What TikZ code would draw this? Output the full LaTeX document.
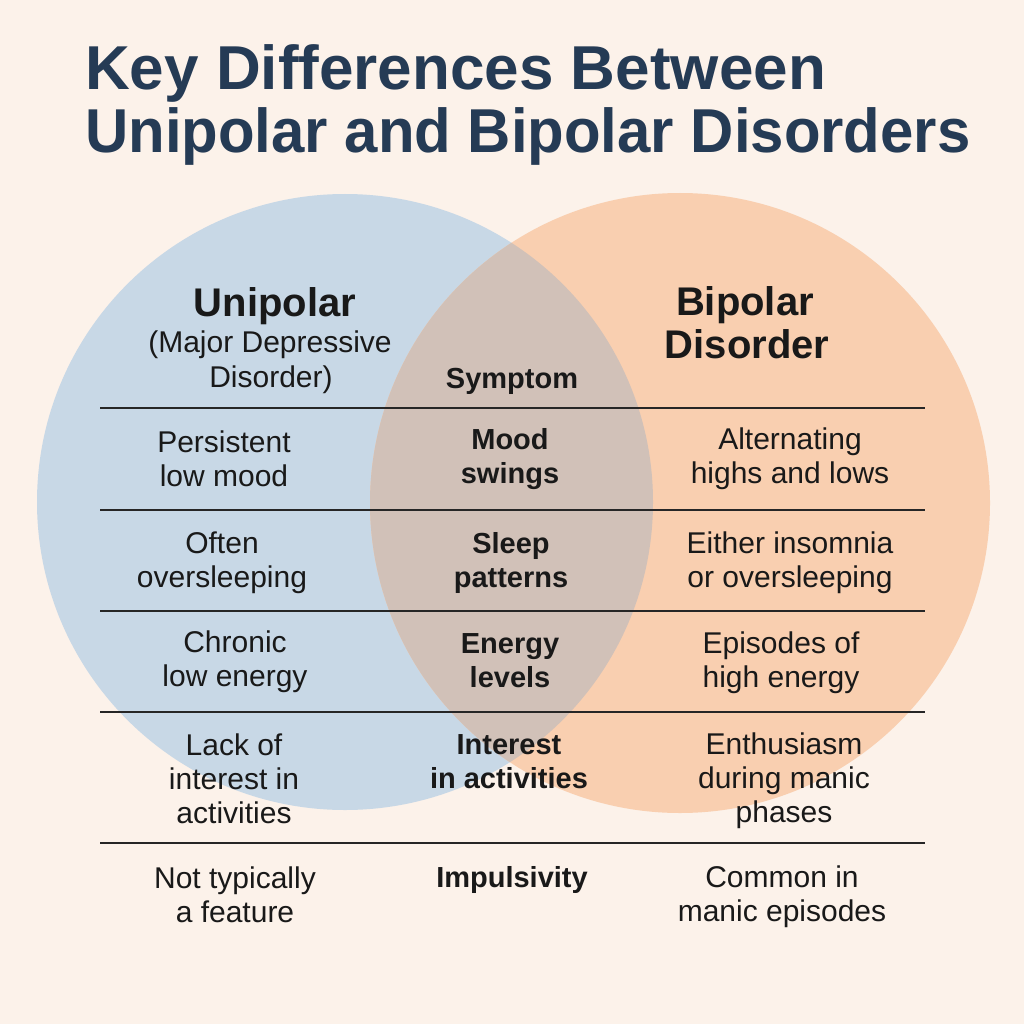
\documentclass[tikz,border=0pt]{standalone}
\usepackage{fontspec}
\setmainfont{Liberation Sans}
\usetikzlibrary{positioning}
\definecolor{bgpeach}{RGB}{252,242,234}
\definecolor{uniblue}{RGB}{200,216,230}
\definecolor{biporange}{RGB}{249,207,176}
\definecolor{overlapbrown}{RGB}{209,193,184}
\definecolor{titlenavy}{RGB}{37,59,85}

\begin{document}
\begin{tikzpicture}[x=1pt,y=-1pt,
  cell/.style={align=center,inner sep=0pt,text=black!90,font=\fontsize{30}{34}\selectfont},
  symcell/.style={cell,font=\bfseries\fontsize{29}{34}\selectfont},
  headcell/.style={cell,font=\bfseries\fontsize{40}{44}\selectfont},
  titletext/.style={anchor=base west,inner sep=0pt,text=titlenavy,font=\bfseries\fontsize{62}{64}\selectfont},
  rowline/.style={black!85,line width=1.6pt}]
  \useasboundingbox[fill=bgpeach] (0,0) rectangle (1024,1024);
  % Circles and their overlap
  \coordinate (uc) at (345,502);
  \coordinate (bc) at (680,503);
  \fill[uniblue] (uc) circle (308);
  \fill[biporange] (bc) circle (310);
  \begin{scope}
    \clip (uc) circle (308);
    \fill[overlapbrown] (bc) circle (310);
  \end{scope}
  % Title
  \node[titletext] (title1) at (85,90) {Key Differences Between};
  \node[titletext] (title2) at (85,153) {\scalebox{0.966}[1]{Unipolar and Bipolar Disorders}};
  % Header row
  \node[headcell,anchor=base] (unihead) at (275,316) {Unipolar};
  \node[cell,anchor=base] (unisub) at (270,352) {(Major Depressive};
  \node[cell,anchor=base] (unisub2) at (271,387) {Disorder)};
  \node[symcell,anchor=base] (symhead) at (512,388) {Symptom};
  \node[headcell,anchor=base] (biphead) at (745,315) {Bipolar};
  \node[headcell,anchor=base] (biphead2) at (747,358) {Disorder};
  % Row separators
  \foreach \yy in {408,510,611,712,843}
    \draw[rowline] (100,\yy) -- (925,\yy);
  % Mood
  \node[cell] (uni1) at (224,459) {Persistent\\low mood};
  \node[symcell] (sym1) at (510,459) {Mood\\swings};
  \node[cell] (bip1) at (790,459) {Alternating\\highs and lows};
  % Sleep
  \node[cell] (uni2) at (222,563) {Often\\oversleeping};
  \node[symcell] (sym2) at (511,563) {Sleep\\patterns};
  \node[cell] (bip2) at (790,563) {Either insomnia\\or oversleeping};
  % Energy
  \node[cell] (uni3) at (235,662) {Chronic\\low energy};
  \node[symcell] (sym3) at (510,661) {Energy\\levels};
  \node[cell] (bip3) at (781,663) {Episodes of\\high energy};
  % Interest
  \node[cell] (uni4) at (234,779) {Lack of\\interest in\\activities};
  \node[symcell] (sym4) at (509,762) {Interest\\in activities};
  \node[cell] (bip4) at (784,781) {Enthusiasm\\during manic\\phases};
  % Impulsivity
  \node[cell] (uni5) at (235,895) {Not typically\\a feature};
  \node[symcell,anchor=base] (sym5) at (512,887) {Impulsivity};
  \node[cell] (bip5) at (782,897) {Common in\\manic episodes};
\end{tikzpicture}
\end{document}
